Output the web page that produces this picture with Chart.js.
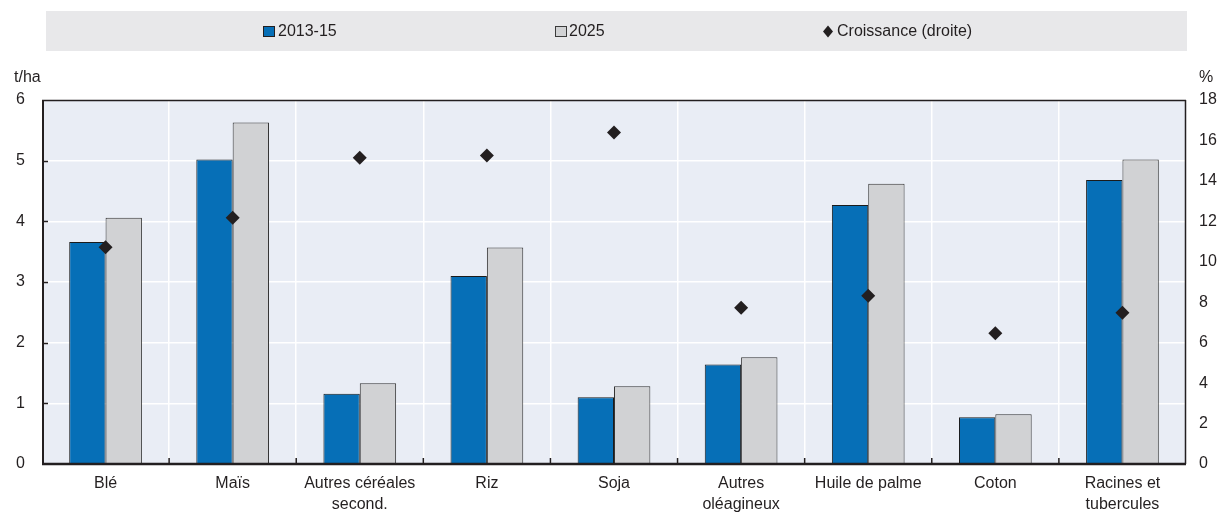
<!DOCTYPE html>
<html>
<head>
<meta charset="utf-8">
<script src="https://cdn.jsdelivr.net/npm/chart.js@4.4.1/dist/chart.umd.min.js"></script>
<style>
  html, body { margin: 0; padding: 0; background: #ffffff; }
  #wrap { width: 1226px; height: 512px; }
</style>
</head>
<body>
<div id="wrap"><canvas id="c" width="1226" height="512"></canvas></div>
<script>
// ---- Data ----
const categories = ['Blé', 'Maïs', ['Autres céréales', 'second.'], 'Riz', 'Soja', ['Autres', 'oléagineux'], 'Huile de palme', 'Coton', ['Racines et', 'tubercules']];
const seriesLabels = ['2013-15', '2025', 'Croissance (droite)'];
const yield2013_15 = [3.66, 5.02, 1.16, 3.10, 1.10, 1.64, 4.27, 0.77, 4.68];
const yield2025 = [4.06, 5.63, 1.33, 3.57, 1.28, 1.76, 4.62, 0.82, 5.02];
const growthPct = [10.72, 12.18, 15.15, 15.25, 16.39, 7.73, 8.32, 6.47, 7.48];
const leftUnit = 't/ha';
const rightUnit = '%';

// ---- Styles ----
const FONT = "'Liberation Sans', Arial, sans-serif";
const DARK = '#231f20';
const BLUE = '#066fb7';
const GREY = '#d1d2d4';
const PLOT_BG = '#e9edf5';
const LEGEND_BG = '#e8e8ea';

const framePlugin = {
  id: 'framePlugin',
  beforeDraw(chart) {
    const { ctx, chartArea: a } = chart;
    ctx.save();
    ctx.fillStyle = PLOT_BG;
    ctx.fillRect(a.left, a.top, a.right - a.left, a.bottom - a.top);
    ctx.fillStyle = LEGEND_BG;
    ctx.fillRect(46, 11, 1141, 40);
    ctx.font = '16px ' + FONT;
    ctx.textBaseline = 'middle';
    ctx.textAlign = 'left';
    const ds = chart.data.datasets;
    ctx.fillStyle = ds[0].backgroundColor;
    ctx.fillRect(263.5, 26.5, 11, 10);
    ctx.strokeStyle = DARK; ctx.lineWidth = 1;
    ctx.strokeRect(263.5, 26.5, 11, 10);
    ctx.fillStyle = DARK;
    ctx.fillText(ds[0].label, 278, 32);
    ctx.fillStyle = ds[1].backgroundColor;
    ctx.fillRect(555.5, 26.5, 11, 10);
    ctx.strokeStyle = '#3a3a3a';
    ctx.strokeRect(555.5, 26.5, 11, 10);
    ctx.fillStyle = DARK;
    ctx.fillText(ds[1].label, 569, 32);
    ctx.fillStyle = ds[2].backgroundColor;
    ctx.beginPath();
    ctx.moveTo(828, 25.5); ctx.lineTo(833, 31.5); ctx.lineTo(828, 37.5); ctx.lineTo(823, 31.5);
    ctx.closePath(); ctx.fill();
    ctx.fillStyle = DARK;
    ctx.fillText(ds[2].label, 837, 32);
    ctx.textBaseline = 'alphabetic';
    ctx.fillText(leftUnit, 14, 82);
    ctx.fillText(rightUnit, 1199, 82);
    ctx.restore();
  },
  afterDatasetsDraw(chart) {
    const { ctx, chartArea: a, scales } = chart;
    ctx.save();
    ctx.strokeStyle = DARK;
    ctx.lineWidth = 1.5;
    ctx.beginPath();
    ctx.moveTo(a.left, a.top + 0.5); ctx.lineTo(a.right, a.top + 0.5);
    ctx.moveTo(a.right - 0.5, a.top); ctx.lineTo(a.right - 0.5, a.bottom);
    ctx.stroke();
    ctx.lineWidth = 2;
    ctx.beginPath();
    ctx.moveTo(a.left + 1, a.top); ctx.lineTo(a.left + 1, a.bottom + 1);
    ctx.stroke();
    ctx.lineWidth = 2.5;
    ctx.beginPath();
    ctx.moveTo(a.left, a.bottom); ctx.lineTo(a.right, a.bottom);
    ctx.stroke();
    ctx.lineWidth = 1.3;
    ctx.beginPath();
    scales.y.ticks.forEach(t => {
      const py = Math.round(scales.y.getPixelForValue(t.value)) + 0.5;
      if (t.value > scales.y.min && t.value < scales.y.max) {
        ctx.moveTo(a.left, py); ctx.lineTo(a.left + 6, py);
      }
    });
    ctx.stroke();
    ctx.lineWidth = 1.5;
    ctx.beginPath();
    const n = chart.data.labels.length;
    for (let i = 0; i < n - 1; i++) {
      const px = (scales.x.getPixelForValue(i) + scales.x.getPixelForValue(i + 1)) / 2;
      ctx.moveTo(px, a.bottom); ctx.lineTo(px, a.bottom - 6);
    }
    ctx.stroke();
    ctx.restore();
  }
};

new Chart(document.getElementById('c'), {
  data: {
    labels: categories,
    datasets: [
      {
        type: 'bar', label: seriesLabels[0], data: yield2013_15, yAxisID: 'y',
        backgroundColor: BLUE, borderColor: '#1b1b1b', borderWidth: 1,
        categoryPercentage: 0.572, barPercentage: 1.0, order: 2
      },
      {
        type: 'bar', label: seriesLabels[1], data: yield2025, yAxisID: 'y',
        backgroundColor: GREY, borderColor: '#333333', borderWidth: 1,
        categoryPercentage: 0.572, barPercentage: 1.0, order: 2
      },
      {
        type: 'line', label: seriesLabels[2], data: growthPct, yAxisID: 'y1',
        showLine: false, pointStyle: 'rectRot', pointRadius: 7, pointHoverRadius: 7,
        backgroundColor: DARK, borderColor: DARK, pointBorderWidth: 0, order: 0
      }
    ]
  },
  options: {
    responsive: false,
    devicePixelRatio: 1,
    animation: false,
    layout: { padding: { top: 100, left: 0, right: 0, bottom: 0 } },
    plugins: { legend: { display: false }, tooltip: { enabled: false } },
    scales: {
      x: {
        type: 'category',
        offset: true,
        grid: { offset: true, color: '#ffffff', lineWidth: 1.5, drawTicks: false },
        border: { display: false },
        ticks: { color: DARK, font: { family: FONT, size: 16, lineHeight: 1.3 }, padding: 9, maxRotation: 0, autoSkip: false },
        afterFit(s) { s.height = 48; }
      },
      y: {
        position: 'left',
        min: 0, max: 6,
        grid: { color: '#ffffff', lineWidth: 1.5, drawTicks: false },
        border: { display: false },
        ticks: { stepSize: 1, color: DARK, font: { family: FONT, size: 16 }, padding: 17 },
        afterFit(s) { s.width = 42; }
      },
      y1: {
        position: 'right',
        min: 0, max: 18,
        grid: { display: false, drawTicks: false },
        border: { display: false },
        ticks: { stepSize: 2, color: DARK, font: { family: FONT, size: 16 }, padding: 13 },
        afterFit(s) { s.width = 40; }
      }
    }
  },
  plugins: [framePlugin]
});
</script>
</body>
</html>
